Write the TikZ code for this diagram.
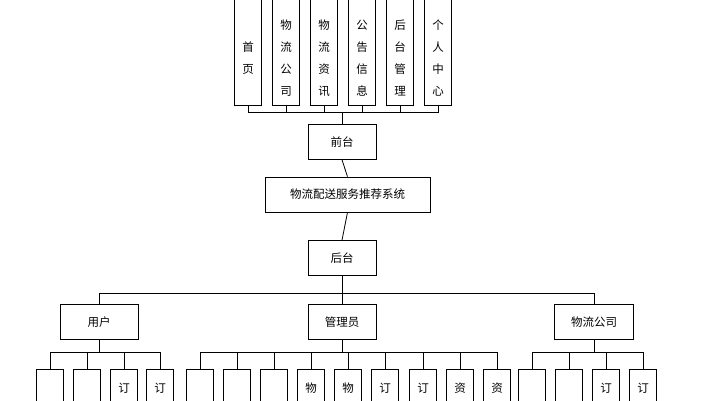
\documentclass[tikz,border=0pt]{standalone}
\usepackage{fontspec}
\setmainfont{Noto Sans CJK SC}
\begin{document}
\begin{tikzpicture}[x=1pt,y=-1pt,line width=0.8pt,
  box/.style={draw,minimum width=68pt,minimum height=35pt,inner sep=0pt,font=\fontsize{11.5}{12}\selectfont},
  vbox/.style={draw,minimum width=27pt,minimum height=#1,inner sep=0pt,anchor=north},
  vt/.style={font=\fontsize{11.5}{22}\selectfont,align=center,inner sep=0pt}]
\useasboundingbox (0,0) rectangle (701,400);
\clip (0,0) rectangle (701,400);
% top boxes
\foreach \i/\x/\t in {1/248/{首\\页},2/286/{物\\流\\公\\司},3/324/{物\\流\\资\\讯},4/362/{公\\告\\信\\息},5/400/{后\\台\\管\\理},6/438/{个\\人\\中\\心}}{
  \node[vbox=116pt] (t\i) at (\x,-11) {};
  \node[vt] at (\x,58) {\t};
}
\node[box] (qt) at (342,142) {前台};
\node[box,minimum width=165pt] (sys) at (347.5,194.5) {物流配送服务推荐系统};
\node[box] (ht) at (342,258) {后台};
\node[box,minimum width=78pt] (yh) at (99,322) {用户};
\node[box] (gl) at (342,322) {管理员};
\node[box,minimum width=79pt] (wl) at (594,322) {物流公司};
\foreach \i in {1,...,6} \draw (t\i.south) -- ++(0,7) -| (qt.north);
\draw (qt.south) -- (sys.north);
\draw (sys.south) -- (ht.north);
\draw (ht.south) -- ++(0,17) -| (yh.north);
\draw (ht.south) -- ++(0,17) -| (wl.north);
\draw (ht.south) -- (gl.north);
% bottom
\foreach \p/\x/\t in {yh/50/{},yh/87/{},yh/124/订,yh/160/订,
  gl/200/{},gl/237/{},gl/274/{},gl/311/物,gl/348/物,gl/385/订,gl/423/订,gl/460/资,gl/497/资,
  wl/532/{},wl/569/{},wl/606/订,wl/643/订}{
  \node[vbox=60pt] (b\x) at (\x,369) {};
  \node[vt] at (\x,388) {\t};
  \draw (\p.south) -- ++(0,12) -| (b\x.north);
}
\end{tikzpicture}
\end{document}
